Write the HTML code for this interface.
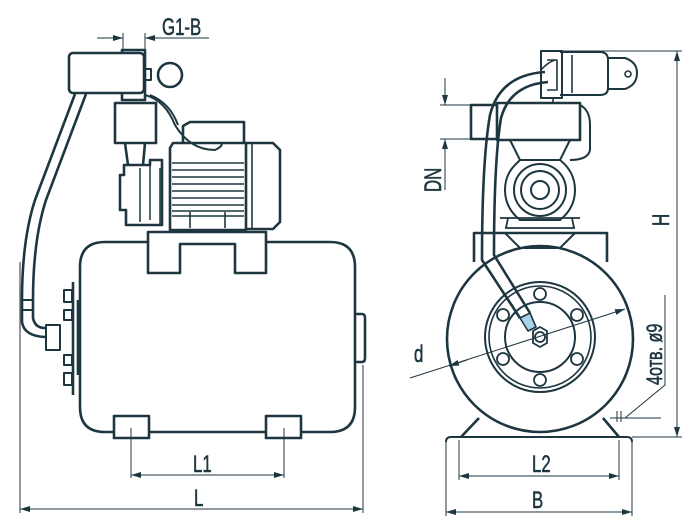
<!DOCTYPE html>
<html><head><meta charset="utf-8"><style>
html,body{margin:0;padding:0;background:#fff;}
svg{display:block}
text{font-family:"Liberation Sans",sans-serif;fill:#1e3640;}
</style></head><body>
<svg width="700" height="527" viewBox="0 0 700 527" xmlns="http://www.w3.org/2000/svg">
<defs>
<marker id="a" markerWidth="10" markerHeight="6" refX="10" refY="3" orient="auto-start-reverse" markerUnits="userSpaceOnUse"><path d="M0,0 L10,3 L0,6 Z" fill="#1e3640"/></marker>
</defs>
<g fill="none" stroke="#1e3640" stroke-width="2.6" stroke-linejoin="round">
<path d="M105,242 H148 M266,242 H330 Q355,242 355,267 V407 Q355,432 330,432 H301 M266,432 H149 M114,432 H105 Q80,432 80,407 V267 Q80,242 105,242"/>
<path d="M148,273 V232 H266 V273 H235 V244 H180 V273 Z"/>
<rect x="114" y="416" width="35" height="22"/>
<rect x="266" y="416" width="35" height="22"/>
<path d="M355,314 H362 Q365,314 365,318 V358 Q365,362 362,362 H355"/>
<path d="M78,300 V375 M73,282 V395"/>
<path d="M64,290 h8 v12 h-8z M64,310 h8 v10 h-8z M64,355 h8 v10 h-8z M64,373 h8 v12 h-8z" stroke-width="2"/>
<rect x="46" y="325" width="14" height="25" stroke-width="2"/>
<path d="M75,94 L35,200 Q22,240 22,300 V322 Q24,336 45,337" />
<path d="M86,94 L46,200 Q33,240 33,300 V318 Q35,328 45,328"/>
<path d="M22,300 h11 M22,310 h11" stroke-width="2"/>
<rect x="69" y="53" width="75" height="40" rx="4"/>
<path d="M122,53 V50 H145 V93"/>
<rect x="145" y="69" width="6" height="11" stroke-width="2"/>
<circle cx="170" cy="75" r="12"/>
<path d="M122,93 V100 H145 V93"/>
<rect x="115" y="103" width="41" height="40"/>
<path d="M125,143 L128,165 M145,143 L143,165"/>
<path d="M145,95 Q165,100 175,125 Q190,150 215,150 Q225,145 220,143" stroke-width="2"/>
<path d="M150,95 Q170,103 178,125" stroke-width="2"/>
<path d="M124,165 H150 V160 H162 V225 H126 V210 H120 V175 H124 Z"/>
<path d="M150,165 V220 M140,168 V222" stroke-width="1.5"/>
<path d="M170,148 V230 H246 V143 H173 Z"/>
<path d="M183,143 V126 L190,122 H244 V143"/>
<path d="M172,163 H244 M172,170 H244 M172,177 H244 M172,184 H244 M172,191 H244 M172,198 H244 M172,205 H244 M172,211 H244" stroke-width="1.6"/>
<path d="M172,216 H244 M190,212 V228 M225,212 V228" stroke-width="1.6"/>
<path d="M246,143 H273 L280,150 V222 L273,229 H246"/>
<path d="M252,143 V229" stroke-width="1.6"/>
<path d="M160,168 V225" stroke-width="1.5"/>
<circle cx="540" cy="339" r="93"/>
<path d="M474,262 V233 H607 V262"/>
<path d="M505,233 L520,248 H560 L575,233" stroke-width="2"/>
<path d="M479,418 L461,437 M603,418 L619,437"/>
<path d="M446,442 Q446,437 451,437 H627 Q632,437 632,442" stroke-width="2"/>
<circle cx="540" cy="337" r="55" stroke-width="2"/>
<circle cx="540" cy="337" r="51" stroke-width="1.6"/>
<circle cx="540" cy="337" r="35" stroke-width="2"/>
<g stroke-width="1.8">
<circle cx="540" cy="294" r="6"/><circle cx="540" cy="380" r="6"/>
<circle cx="503" cy="315" r="6"/><circle cx="577" cy="315" r="6"/>
<circle cx="503" cy="359" r="6"/><circle cx="577" cy="359" r="6"/>
<path d="M533,331 L540,327 L547,331 V343 L540,347 L533,343 Z"/>
<circle cx="540" cy="337" r="5"/>
</g>
<path d="M545,72 Q500,75 490,115 Q482,160 482,260 L520,318" />
<path d="M548,82 Q510,85 501,118 Q494,160 494,255 L530,313"/>
<path d="M520,318 L530,313 L536,327 L528,331 Z" fill="#a9d3ea" stroke-width="1.6"/>
<rect x="497" y="103" width="83" height="37"/>
<path d="M497,105 H471 V139 H497"/>
<path d="M580,105 Q590,110 590,125 V150 Q588,160 570,160" stroke-width="2"/>
<path d="M510,140 L520,160 M570,140 L560,160" stroke-width="2"/>
<path d="M515,165 Q505,175 505,190 Q505,208 520,220 H560 Q575,208 575,190 Q575,172 560,160 H520 Z" stroke-width="2"/>
<circle cx="540" cy="190" r="26" stroke-width="2"/>
<circle cx="540" cy="190" r="19" stroke-width="2"/>
<circle cx="540" cy="190" r="9" stroke-width="2"/>
<path d="M500,218 H580 M505,228 H575 M508,218 L506,228 M572,218 L574,228" stroke-width="1.8"/>
<path d="M541,51 H562 V98 H541 Z" stroke-width="2"/>
<path d="M560,52 H600 Q608,52 608,60 V88 Q608,95 600,95 H560" stroke-width="2"/>
<path d="M572,55 V93 M547,60 H557 V90 H547" stroke-width="1.6"/>
<path d="M608,58 H625 Q637,62 637,73 Q637,85 625,89 H608" stroke-width="2"/>
<circle cx="628" cy="74" r="3" stroke-width="1.6"/>
<path d="M541,70 Q548,62 555,60 M553,98 V103" stroke-width="1.6"/>
</g>
<g fill="none" stroke="#1e3640" stroke-width="1">
<path d="M20,262 V513 M363,365 V513"/>
<path d="M20,509 H363" marker-start="url(#a)" marker-end="url(#a)"/>
<path d="M131,428 V478 M284,428 V478"/>
<path d="M131,475 H284" marker-start="url(#a)" marker-end="url(#a)"/>
<path d="M123,33 V52 M145,33 V50"/>
<path d="M97,38 H123" marker-end="url(#a)"/><path d="M209,38 H145" marker-end="url(#a)"/>
<path d="M160,38 H209"/>
<path d="M446,440 V516 M632,440 V516 M459,440 V480 M619,440 V480"/>
<path d="M446,512 H632" marker-start="url(#a)" marker-end="url(#a)"/>
<path d="M459,476 H619" marker-start="url(#a)" marker-end="url(#a)"/>
<path d="M540,51 H682 M632,437 H682"/>
<path d="M677,51 V437" marker-start="url(#a)" marker-end="url(#a)"/>
<path d="M440,105 H471 M440,139 H471"/>
<path d="M445,78 V105" marker-end="url(#a)"/><path d="M445,190 V139" marker-end="url(#a)"/>
<path d="M410,378 L625,309" marker-end="url(#a)"/>
<path d="M467,360 L449,366" marker-end="url(#a)"/>
<path d="M665,295 V385 L625,418"/>
<path d="M620,418 H661 M625,418 H610"/>
<path d="M617,411 V422 M621,411 V422"/>
</g>
<g font-size="21" stroke="#1e3640" stroke-width="0.5">
<text transform="translate(162,35) scale(0.8,1.15)">G1-B</text>
<text transform="translate(193,472) scale(0.8,1.15)">L1</text>
<text transform="translate(194,506) scale(0.8,1.15)">L</text>
<text transform="translate(532,472) scale(0.8,1.15)">L2</text>
<text transform="translate(532,508) scale(0.8,1.15)">B</text>
<text transform="translate(414,362) scale(0.8,1.15)">d</text>
<text transform="translate(669,226) rotate(-90) scale(0.8,1.15)">H</text>
<text transform="translate(441,192) rotate(-90) scale(0.8,1.15)">DN</text>
<text transform="translate(662,385) rotate(-90) scale(0.85,1.15)" font-size="19">4отв. ø9</text>
</g>
</svg>
</body></html>
